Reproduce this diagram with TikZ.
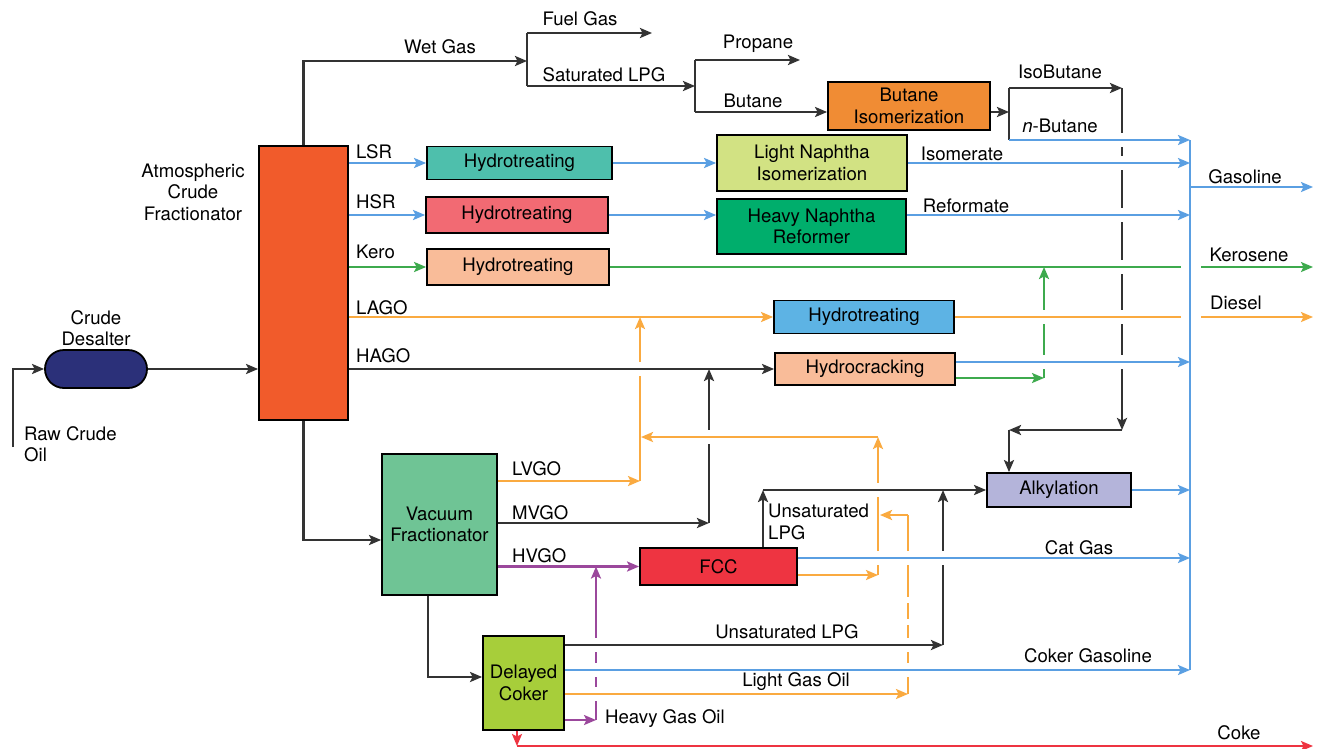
\documentclass[tikz,border=0pt]{standalone}
\usepackage{fontspec}
\setmainfont{TeX Gyre Heros}
\usetikzlibrary{arrows.meta}
\definecolor{lblk}{HTML}{333333}
\definecolor{lblu}{HTML}{5A9FE2}
\definecolor{lgrn}{HTML}{3DAA4D}
\definecolor{lorg}{HTML}{FAAA40}
\definecolor{lpur}{HTML}{9B489C}
\definecolor{lred}{HTML}{EE3441}
\definecolor{catm}{HTML}{F15B2B}
\definecolor{cdes}{HTML}{2B3079}
\definecolor{cht1}{HTML}{4EBFAC}
\definecolor{cht2}{HTML}{F26A73}
\definecolor{cht3}{HTML}{F9BC99}
\definecolor{clni}{HTML}{D2E283}
\definecolor{chnr}{HTML}{00AE6C}
\definecolor{cbui}{HTML}{F08C34}
\definecolor{chtd}{HTML}{5DB3E4}
\definecolor{calk}{HTML}{B4B4DA}
\definecolor{cvac}{HTML}{6FC495}
\definecolor{cfcc}{HTML}{EE3441}
\definecolor{ccok}{HTML}{A7CE3A}
\newcommand\dfont{\fontsize{18.6}{21.5}\selectfont}
\newcommand\gapv[2][7]{\fill[white] ([shift={(-5,-#1)}]#2) rectangle ([shift={(5,#1)}]#2);}
\tikzset{
  box/.style={draw=black,line width=1.8pt,align=center,inner sep=0pt},
  arr/.style={-{Stealth[length=12pt,width=10pt,inset=2.5pt]}},
  ln/.style={line width=2.2pt},
  bk/.style={ln,draw=lblk,line width=2.4pt},
  bl/.style={ln,draw=lblu},
  gr/.style={ln,draw=lgrn},
  or/.style={ln,draw=lorg},
  pu/.style={ln,draw=lpur},
  rd/.style={ln,draw=lred},
  lbl/.style={inner sep=0pt,align=center},
  lbll/.style={inner sep=0pt,align=left,anchor=west}
}
\begin{document}
\begin{tikzpicture}[x=1pt,y=-1pt,font=\dfont]
\useasboundingbox (0,0) rectangle (1318,748);
\fill[white] (0,0) rectangle (1318,748);

% ---------- boxes ----------
\node[box,fill=catm,minimum width=89pt,minimum height=274pt] (atm) at (303.5,283) {};
\node[draw=black,line width=1.8pt,fill=cdes,rounded corners=19pt,minimum width=102pt,minimum height=38pt] (des) at (96,369) {};
\node[box,fill=cht1,minimum width=185pt,minimum height=33pt] (ht1) at (519.5,163) {Hydrotreating};
\node[box,fill=cht2,minimum width=182pt,minimum height=36pt] (ht2) at (517,215) {Hydrotreating};
\node[box,fill=cht3,minimum width=182pt,minimum height=36pt] (ht3) at (518,267) {Hydrotreating};
\node[box,fill=clni,minimum width=190pt,minimum height=56pt] (lni) at (812,163) {Light Naphtha\\Isomerization};
\node[box,fill=chnr,minimum width=189pt,minimum height=55pt] (hnr) at (811.5,226.5) {Heavy Naphtha\\Reformer};
\node[box,fill=cbui,minimum width=162pt,minimum height=48pt] (bui) at (909,106) {Butane\\Isomerization};
\node[box,fill=chtd,minimum width=180pt,minimum height=33pt] (htd) at (864,317) {Hydrotreating};
\node[box,fill=cht3,minimum width=180pt,minimum height=32pt] (hcr) at (865,369) {Hydrocracking};
\node[box,fill=calk,minimum width=144pt,minimum height=34pt] (alk) at (1059,490) {Alkylation};
\node[box,fill=cvac,minimum width=115pt,minimum height=141pt] (vac) at (439.5,524.5) {Vacuum\\Fractionator};
\node[box,fill=cfcc,minimum width=157pt,minimum height=37pt] (fcc) at (718.5,566.5) {FCC};
\node[box,fill=ccok,minimum width=81pt,minimum height=94pt] (cok) at (523.5,683) {Delayed\\Coker};

% ---------- coordinates ----------
\coordinate (rawS) at (13,447);
\coordinate (wg) at (527,61);
\coordinate (fgS) at (527,33);
\coordinate (fgE) at (652,33);
\coordinate (lpgS) at (527,86);
\coordinate (lpgE) at (695,86);
\coordinate (prS) at (695,60);
\coordinate (prE) at (800,60);
\coordinate (buS) at (695,112);
\coordinate (ibA) at (1009,112);
\coordinate (ibT) at (1009,88);
\coordinate (ibB) at (1009,140);
\coordinate (ibR) at (1122,88);
\coordinate (ibD) at (1122,430);
\coordinate (ibL) at (1009,430);
\coordinate (busT) at (1190,140);
\coordinate (gs) at (1190,187);
\coordinate (gE) at (1313,187);
\coordinate (k1) at (1181,267);
\coordinate (k2) at (1201,267);
\coordinate (kE) at (1313,267);
\coordinate (d1) at (1181,317);
\coordinate (d2) at (1201,317);
\coordinate (dE) at (1313,317);
\coordinate (r362) at (1190,362);
\coordinate (hcrB) at (1044,378);
\coordinate (y540) at (0,540);
\coordinate (lv) at (640,481);
\coordinate (mv) at (709,523);
\coordinate (hg) at (596,720);
\coordinate (vb) at (428,677);
\coordinate (cu) at (943,645);
\coordinate (y490) at (0,490);
\coordinate (cg) at (1190,670);
\coordinate (lg) at (908,694);
\coordinate (lgT) at (908,515);
\coordinate (lgL) at (880,515);
\coordinate (ck) at (517,746);
\coordinate (ckE) at (1313,746);
\coordinate (fu) at (763,490);
\coordinate (cat) at (1190,558);
\coordinate (fo) at (878,575);
\coordinate (foT) at (878,437);
\coordinate (foL) at (641,437);

% ---------- vertical lines that are broken at crossings ----------
\draw[bk,arr] (ibR) -- (ibD);
\draw[gr,arr] (hcrB) -- (hcrB |- ht3.east);
\draw[or,arr] (lv) -- (lv |- htd.west);
\draw[bk,arr] (mv) -- (mv |- hcr.west);
\draw[or,arr] (fo) -- (foT);
\draw[or] (lg) -- (lgT);
\draw[bk,arr] (cu) -- (cu |- y490);
\draw[pu,arr] (hg) -- (hg |- fcc.west);

\gapv{1122,140}\gapv{1122,163}\gapv{1122,215}\gapv{1122,267}\gapv{1122,317}\gapv{1122,362}
\gapv{1044,317}\gapv{1044,362}
\gapv{640,369}
\gapv{709,437}
\gapv{878,490}\gapv{878,558}
\gapv{908,558}\gapv[3]{908,600}\gapv[3]{908,622}\gapv{908,645}\gapv{908,670}
\gapv{943,558}
\gapv{596,645}\gapv{596,670}\gapv{596,694}

% ---------- other connectors ----------
\draw[bk,arr] (rawS) |- (des.west);
\draw[bk,arr] (des.east) -- (atm.west |- des.east);
\draw[bk,arr] (atm.north) |- (wg);
\draw[bk] (fgS) -- (lpgS);
\draw[bk,arr] (fgS) -- (fgE);
\draw[bk,arr] (lpgS) -- (lpgE);
\draw[bk] (prS) -- (buS);
\draw[bk,arr] (prS) -- (prE);
\draw[bk,arr] (buS) -- (bui.west |- buS);
\draw[bk,arr] (bui.east |- ibA) -- (ibA);
\draw[bk] (ibT) -- (ibB);
\draw[bk,arr] (ibT) -- (ibR);
\draw[bk,arr] (ibD) -- (ibL);
\draw[bk,arr] (ibL) -- (alk.north -| ibL);
\draw[bl,arr] (ibB) -- (busT);

\draw[bl,arr] (atm.east |- ht1.west) -- (ht1.west);
\draw[bl,arr] (ht1.east) -- (lni.west |- ht1.east);
\draw[bl,arr] (lni.east) -- (busT |- lni.east);
\draw[bl,arr] (atm.east |- ht2.west) -- (ht2.west);
\draw[bl,arr] (ht2.east) -- (hnr.west |- ht2.east);
\draw[bl,arr] (hnr.east |- ht2.east) -- (busT |- ht2.east);
\draw[gr,arr] (atm.east |- ht3.west) -- (ht3.west);
\draw[gr] (ht3.east) -- (k1);
\draw[gr,arr] (k2) -- (kE);
\draw[or,arr] (atm.east |- htd.west) -- (htd.west);
\draw[or] (htd.east) -- (d1);
\draw[or,arr] (d2) -- (dE);
\draw[bk,arr] (atm.east |- hcr.west) -- (hcr.west);
\draw[bl,arr] (hcr.east |- r362) -- (r362);
\draw[gr,arr] (hcr.east |- hcrB) -- (hcrB);

\draw[bk,arr] (atm.south) |- (vac.west |- y540);
\draw[or,arr] (vac.east |- lv) -- (lv);
\draw[bk,arr] (vac.east |- mv) -- (mv);
\draw[pu,arr] (vac.east |- fcc.west) -- (fcc.west);
\draw[bk,arr] (vac.south -| vb) |- (cok.west |- vb);

\draw[bk,arr] (cok.east |- cu) -- (cu);
\draw[bl,arr] (cok.east |- cg) -- (cg);
\draw[or,arr] (cok.east |- lg) -- (lg);
\draw[or,arr] (lgT) -- (lgL);
\draw[pu,arr] (cok.east |- hg) -- (hg);
\draw[rd,arr] (cok.south -| ck) -- (ck);
\draw[rd,arr] (ck) -- (ckE);

\draw[bk,arr] (fcc.north -| fu) -- (fu);
\draw[bk,arr] (fu) -- (alk.west);
\draw[bl,arr] (fcc.east |- cat) -- (cat);
\draw[or,arr] (fcc.east |- fo) -- (fo);
\draw[or,arr] (foT) -- (foL);
\draw[bl,arr] (alk.east) -- (busT |- alk.east);

\draw[bl] (busT) -- (cg);
\draw[bl,arr] (gs) -- (gE);

% ---------- labels ----------
\node[lbl] (tatm) at (193,192) {Atmospheric\\Crude\\Fractionator};
\node[lbl] (tdes) at (96,328) {Crude\\Desalter};
\node[lbll] (traw) at (24,444) {Raw Crude\\Oil};
\node[lbl] (twg) at (440,47) {Wet Gas};
\node[lbl] (tfg) at (580,19) {Fuel Gas};
\node[lbl] (tsl) at (604,75) {Saturated LPG};
\node[lbl] (tpr) at (758,44) {Propane};
\node[lbl] (tbu) at (753,101) {Butane};
\node[lbl] (tib) at (1060,72) {IsoButane};
\node[lbl] (tnb) at (1060,126) {\textit{n}-Butane};
\node[lbl] (tism) at (962,154) {Isomerate};
\node[lbl] (tref) at (966,206) {Reformate};
\node[lbl] (tgas) at (1245,177) {Gasoline};
\node[lbl] (tker) at (1249,255) {Kerosene};
\node[lbl] (tdsl) at (1236,303) {Diesel};
\node[lbll] (tlsr) at (356,152) {LSR};
\node[lbll] (thsr) at (356,202) {HSR};
\node[lbll] (tkero) at (356,252) {Kero};
\node[lbll] (tlago) at (356,308) {LAGO};
\node[lbll] (thago) at (356,356) {HAGO};
\node[lbll] (tlvgo) at (512,469) {LVGO};
\node[lbll] (tmvgo) at (512,513) {MVGO};
\node[lbll] (thvgo) at (512,556) {HVGO};
\node[lbll] (tulpg) at (768,522) {Unsaturated\\LPG};
\node[lbl] (tcat) at (1079,548) {Cat Gas};
\node[lbl] (tulpg2) at (787,632) {Unsaturated LPG};
\node[lbl] (tcg) at (1088,656) {Coker Gasoline};
\node[lbl] (tlgo) at (796,682) {Light Gas Oil};
\node[lbll] (thgo) at (605,719) {Heavy Gas Oil};
\node[lbl] (tcoke) at (1239,733) {Coke};
\end{tikzpicture}
\end{document}
